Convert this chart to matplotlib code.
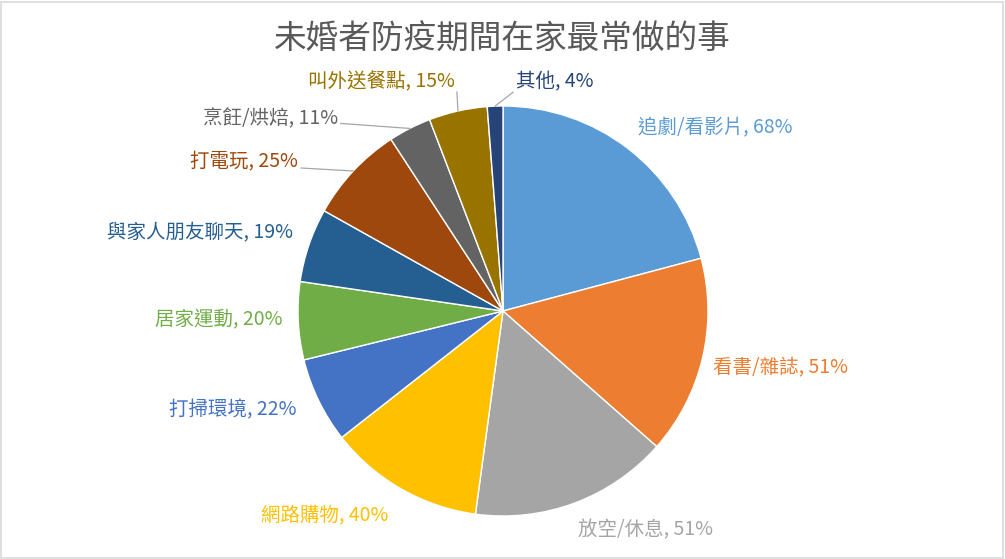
import numpy as np
import matplotlib
matplotlib.use("Agg")
import matplotlib.pyplot as plt
from matplotlib.patches import Rectangle

plt.rcParams['font.family'] = ['Noto Sans CJK TC', 'DejaVu Sans']

title = "未婚者防疫期間在家最常做的事"
categories = ["追劇/看影片", "看書/雜誌", "放空/休息", "網路購物", "打掃環境", "居家運動",
              "與家人朋友聊天", "打電玩", "烹飪/烘焙", "叫外送餐點", "其他"]
values = [68, 51, 51, 40, 22, 20, 19, 25, 11, 15, 4]
colors = ["#5B9BD5", "#ED7D31", "#A5A5A5", "#FFC000", "#4472C4", "#70AD47",
          "#255E91", "#9E480E", "#636363", "#997300", "#264478"]

# label placement: offset (px) from slice edge at mid angle, alignment
label_off = [(10, 21, "left"), (10, -10, "left"), (3, -27, "left"), (-13, -27, "right"),
             (-22, -9, "right"), (-16, 1, "right"), (-16, 12, "right"), (-55, 9, "right"),
             (-72, 10, "right"), (-3, 29, "right"), (21, 24, "left")]
# leader line start, relative to text anchor (None = no line)
leader = [None] * 7 + [(3, -6), (3, -5), (2, -10), (-3, -10)]

W, H = 1005, 559
fig = plt.figure(figsize=(W / 100, H / 100), dpi=100)
ax = fig.add_axes([0, 0, 1, 1])

cx, cy, R = 503, H - 311, 205
ax.pie(values, colors=colors, startangle=90, counterclock=False, center=(cx, cy), radius=R,
       wedgeprops=dict(linewidth=1.0, edgecolor='white'), frame=True)
ax.set_xlim(0, W)
ax.set_ylim(0, H)
ax.set_aspect('equal')
ax.axis('off')

total = sum(values)
start = 0.0
for i, (cat, v) in enumerate(zip(categories, values)):
    frac = v / total
    mid = np.deg2rad((start + frac / 2) * 360)
    start += frac
    ex, ey = cx + R * np.sin(mid), cy + R * np.cos(mid)
    dx, dy, ha = label_off[i]
    tx, ty = ex + dx, ey + dy
    ax.text(tx, ty, f"{cat}, {v}%", color=colors[i], fontsize=14, ha=ha, va='center')
    if leader[i] is not None:
        lx, ly = tx + leader[i][0], ty + leader[i][1]
        ax.plot([lx, ex], [ly, ey], color='#A6A6A6', lw=0.9)

ax.text(W / 2, H - 40, title, ha='center', va='center', fontsize=23.5, color='#595959')
fig.add_artist(Rectangle((0.001, 0.002), 0.997, 0.995, transform=fig.transFigure,
                         fill=False, edgecolor='#D9D9D9', lw=1.2))

fig.savefig("out.png", dpi=100)
